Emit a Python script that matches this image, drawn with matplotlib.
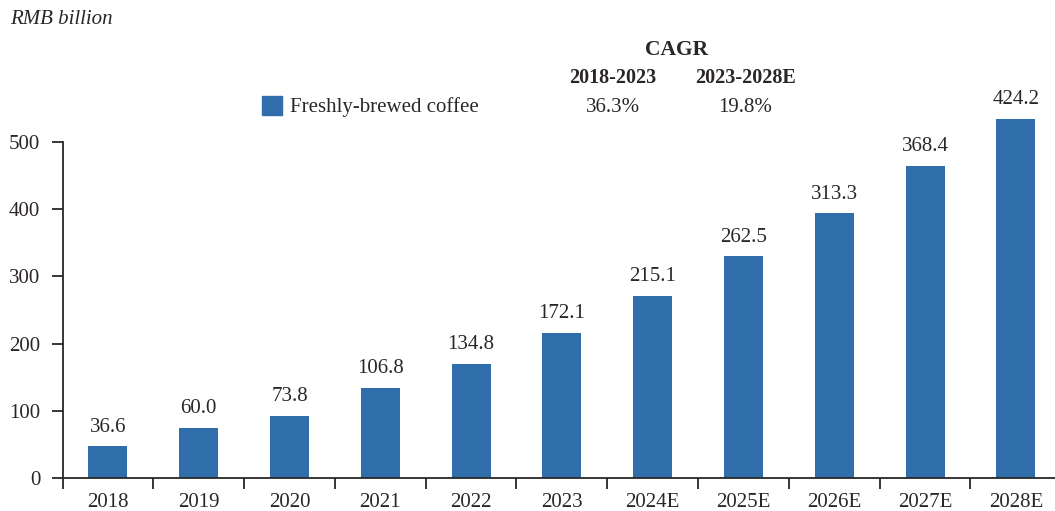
import numpy as np
import matplotlib
matplotlib.use('Agg')
from matplotlib import pyplot as plt

years = ['2018', '2019', '2020', '2021', '2022', '2023',
         '2024E', '2025E', '2026E', '2027E', '2028E']
# heights as drawn against the axis (the chart's bars are not to label scale)
bar_heights = [47, 75, 93, 134, 170, 216, 271, 330, 394, 465, 534]
value_labels = ['36.6', '60.0', '73.8', '106.8', '134.8', '172.1',
                '215.1', '262.5', '313.3', '368.4', '424.2']
yticks = [0, 100, 200, 300, 400, 500]
series_name = 'Freshly-brewed coffee'
cagr_periods = ['2018-2023', '2023-2028E']
cagr_values = ['36.3%', '19.8%']

BLUE = '#2f6eab'
INK = '#2b2626'
FS = 15
plt.rcParams['font.family'] = ['Liberation Serif', 'DejaVu Serif']

W, H = 1055, 511
fig = plt.figure(figsize=(W / 100, H / 100), dpi=100)
ax_left, ax_right, ax_bottom, ax_top = 62.5, 1055, 478, 90
ax = fig.add_axes([ax_left / W, (H - ax_bottom) / H,
                   (ax_right - ax_left) / W, (ax_bottom - ax_top) / H])

x = np.arange(len(years))
ax.bar(x, bar_heights, width=0.43, color=BLUE, zorder=2)
for xi, h, lab in zip(x, bar_heights, value_labels):
    ax.annotate(lab, (xi, h), xytext=(0, 7), textcoords='offset points',
                ha='center', va='bottom', fontsize=FS, color=INK)

px_per_cat = 90.8
ax.set_xlim(-0.5, -0.5 + (ax_right - ax_left) / px_per_cat)
ax.set_ylim(0, (ax_bottom - ax_top) / 0.672)

ax.set_yticks(yticks)
ax.set_yticklabels([str(t) for t in yticks], fontsize=FS, color=INK)
ax.set_xticks(np.arange(len(years)) - 0.5)
ax.set_xticklabels([])
ax.set_xticks(x, minor=True)
ax.set_xticklabels(years, minor=True, fontsize=FS, color=INK)
ax.tick_params(axis='x', which='minor', length=0, pad=11)
ax.tick_params(axis='x', which='major', length=8, width=1.3, color=INK,
               direction='out')
ax.tick_params(axis='y', length=8, width=1.3, color=INK, pad=8)

for s in ['top', 'right']:
    ax.spines[s].set_visible(False)
ax.spines['left'].set_bounds(0, 500)
for s in ['left', 'bottom']:
    ax.spines[s].set_color(INK)
    ax.spines[s].set_linewidth(1.3)

# header text
fig.text(10 / W, 1 - 20 / H, 'RMB billion', style='italic', fontsize=FS,
         color=INK, va='center', ha='left')
fig.text(677 / W, 1 - 50 / H, 'CAGR', weight='bold', fontsize=15.5,
         color=INK, va='center', ha='center')
for cx, per, val in zip([613, 745], cagr_periods, cagr_values):
    fig.text(cx / W, 1 - 78 / H, per, weight='bold', fontsize=14.5,
             color=INK, va='center', ha='center')
    fig.text(cx / W, 1 - 107 / H, val,
             fontsize=FS, color=INK, va='center', ha='center')

fig.patches.append(plt.Rectangle((262 / W, 1 - 115 / H), 20 / W, 19 / H,
                                 transform=fig.transFigure, color=BLUE))
fig.text(290 / W, 1 - 107 / H, series_name, fontsize=FS, color=INK,
         va='center', ha='left')

fig.savefig('out.png', dpi=100)
